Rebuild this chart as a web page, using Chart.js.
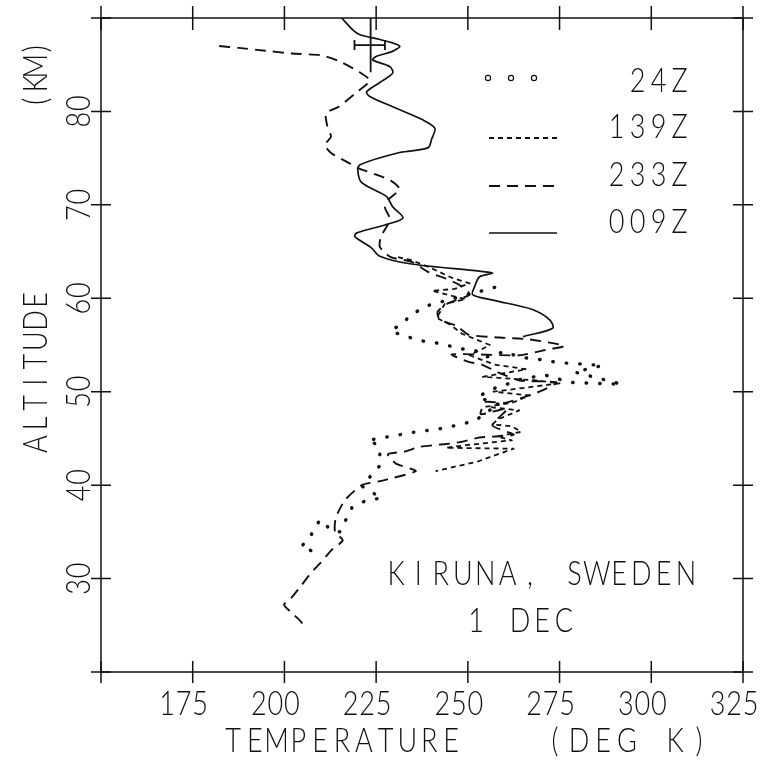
<!DOCTYPE html>
<html>
<head>
<meta charset="utf-8">
<script src="https://cdn.jsdelivr.net/npm/chart.js@4/dist/chart.umd.min.js"></script>
<style>
  html, body { margin: 0; padding: 0; background: #fff; }
  canvas { display: block; }
</style>
</head>
<body>
<canvas id="c" width="761" height="762"></canvas>
<script>
// temperature (K) on x, altitude (km) on y
const xTicks = [150, 175, 200, 225, 250, 275, 300, 325];
const xTickLabels = ['', '175', '200', '225', '250', '275', '300', '325'];
const yTicks = [20, 30, 40, 50, 60, 70, 80, 90];
const yTickLabels = ['', '30', '40', '50', '60', '70', '80', ''];

const seriesNames = ['24Z', '139Z', '233Z', '009Z'];

// each run: [temperature, altitude]
const run24Z = [
  [207.2, 33.0], [204.5, 33.4], [206.7, 34.3], [209.7, 36.3], [212.7, 35.2], [215.1, 35.0],
  [218.4, 37.6], [222.5, 38.4], [226.5, 38.6], [221.1, 39.9], [226.5, 42.3], [225.5, 44.3],
  [222.7, 44.8], [230.1, 45.3], [234.2, 45.6], [238.0, 45.8], [242.0, 46.0], [246.9, 46.4],
  [252.1, 46.9], [254.9, 47.8], [258.7, 48.6], [252.7, 49.4], [255.9, 50.2], [260.0, 50.7],
  [264.1, 51.3], [270.9, 51.8], [277.9, 51.0], [291.9, 50.8], [279.1, 52.1], [286.7, 52.8],
  [279.9, 53.0], [274.7, 53.1], [270.6, 53.4], [264.1, 53.7], [260.0, 54.3], [254.9, 53.7],
  [251.6, 54.5], [247.5, 54.6], [244.2, 55.0], [241.8, 55.2], [239.1, 55.3], [236.9, 55.5],
  [234.2, 55.8], [231.7, 56.1], [229.0, 56.5], [232.8, 57.5], [234.2, 58.2], [239.6, 59.3],
  [254.9, 60.9], [257.6, 61.2]
];

const run139Z = [
  [231.0, 64.4], [234.4, 64.1], [239.6, 63.3], [245.6, 62.2], [250.5, 61.6], [246.4, 61.0],
  [240.2, 60.8], [249.4, 59.9], [243.7, 59.4], [241.5, 57.9], [245.1, 57.2], [248.4, 56.2],
  [256.0, 55.0], [250.5, 53.9], [257.3, 52.9], [266.0, 52.4], [254.1, 51.6], [268.7, 51.2],
  [275.0, 50.9], [257.0, 50.0], [266.8, 49.6], [262.0, 48.8], [255.0, 48.4], [264.0, 48.0],
  [258.0, 47.0], [256.7, 46.5], [262.0, 46.3], [264.5, 45.7], [258.0, 45.2], [262.0, 44.8],
  [250.0, 44.3], [244.0, 44.0], [262.5, 43.9], [256.0, 43.0], [252.5, 42.5], [247.8, 42.1],
  [241.2, 41.5]
];

const run233Z = [
  [182.2, 87.0], [187.6, 86.8], [194.7, 86.5], [202.0, 86.2], [210.2, 86.0], [214.8, 85.4],
  [220.5, 84.2], [223.3, 83.3], [219.5, 82.0], [214.8, 80.5], [211.3, 79.8], [211.7, 78.4],
  [212.7, 77.3], [211.0, 76.4], [212.9, 75.5], [217.0, 74.6], [220.3, 73.9], [224.6, 73.3],
  [229.0, 72.6], [231.4, 71.7], [228.2, 70.5], [227.4, 69.7], [228.7, 68.6], [228.2, 67.9],
  [226.3, 66.6], [226.0, 65.5], [229.0, 64.4], [234.7, 63.9], [239.3, 62.8], [244.0, 62.1],
  [247.8, 61.4], [250.5, 60.4], [244.8, 59.5], [241.8, 58.6], [242.3, 57.7], [246.7, 57.1],
  [250.2, 56.1], [258.7, 55.8], [266.8, 55.6], [276.3, 54.9], [270.3, 54.4], [264.1, 53.9],
  [245.6, 54.0], [250.2, 53.2], [253.8, 52.9], [258.1, 52.1], [264.1, 51.2], [274.2, 51.0],
  [269.5, 50.0], [260.0, 48.8], [254.9, 48.9], [253.5, 47.6], [260.8, 48.2], [256.7, 46.4],
  [262.5, 45.4], [253.2, 45.1], [247.8, 44.6], [244.1, 44.4], [241.2, 44.3], [236.9, 44.1],
  [232.8, 43.6], [228.2, 43.3], [230.4, 42.3], [235.8, 41.5], [225.7, 40.4], [221.1, 40.0],
  [216.5, 38.4], [214.0, 36.5], [213.8, 35.0], [215.9, 34.1], [212.7, 33.0], [209.9, 31.7],
  [207.2, 30.6], [204.5, 29.2], [201.8, 27.9], [199.9, 27.2], [201.8, 26.4], [204.5, 25.4],
  [205.6, 24.7]
];

const run009Z = [
  [215.6, 90.0], [218.7, 88.7], [220.6, 88.2], [226.0, 87.7], [231.4, 87.0], [229.3, 86.4],
  [225.1, 85.9], [224.1, 85.5], [228.7, 84.8], [229.5, 84.1], [226.0, 83.1], [222.4, 82.1],
  [223.3, 81.6], [229.5, 80.5], [237.7, 79.1], [241.0, 78.2], [240.1, 77.0], [239.1, 76.1],
  [231.4, 75.6], [220.6, 74.3], [220.0, 73.7], [221.0, 72.4], [227.8, 70.9], [229.5, 69.8],
  [232.3, 68.6], [227.8, 67.9], [219.7, 67.0], [219.2, 66.6], [223.7, 65.4], [226.0, 64.5],
  [234.2, 63.7], [253.2, 62.9], [256.8, 62.7], [253.2, 62.3], [251.9, 61.3], [251.3, 60.4],
  [256.8, 59.8], [267.6, 58.8], [272.3, 57.7], [273.1, 56.8], [265.0, 55.9]
];

// error bar near the top of 009Z
const errorBar = { temp: 223.5, tempLow: 219.1, tempHigh: 227.4, alt: 87.1, altTop: 90, altBottom: 84.2 };

const INK = '#111';
const FONT = '300 33px Lato, "DejaVu Sans", sans-serif';

const toPoints = run => run.map(p => ({ x: p[0], y: p[1] }));

const lineStyles = [
  { dash: [0.5, 13], width: 3.4, cap: 'round', tension: 0 },   // dots
  { dash: [5, 4], width: 1.8, cap: 'butt', tension: 0 },       // short dash
  { dash: [11, 7], width: 1.9, cap: 'butt', tension: 0.2 },    // long dash
  { dash: [], width: 1.7, cap: 'butt', tension: 0.3 }          // solid
];

const runs = [run24Z, run139Z, run233Z, run009Z];

// fixed pitch text, like the old plotter lettering
function drawFixed(ctx, str, cx, cy, pitch, angle) {
  ctx.save();
  ctx.translate(cx, cy);
  if (angle) ctx.rotate(angle);
  ctx.font = FONT;
  ctx.fillStyle = INK;
  ctx.textAlign = 'center';
  ctx.textBaseline = 'alphabetic';
  const n = str.length;
  for (let i = 0; i < n; i++) {
    const ch = str[i];
    if (ch === ' ') continue;
    ctx.save();
    ctx.translate((i - (n - 1) / 2) * pitch, 12);
    ctx.scale(0.82, 1);
    ctx.fillText(ch, 0, 0);
    ctx.restore();
  }
  ctx.restore();
}

const framePlugin = {
  id: 'frame',
  afterDatasetsDraw(chart) {
    const ctx = chart.ctx;
    const xs = chart.scales.x, ys = chart.scales.y;
    const a = chart.chartArea;
    ctx.save();
    ctx.strokeStyle = INK;
    ctx.lineWidth = 1.5;
    ctx.setLineDash([]);
    ctx.strokeRect(a.left, a.top, a.right - a.left, a.bottom - a.top);

    // ticks crossing the frame on all sides
    ctx.beginPath();
    xTicks.forEach(v => {
      const px = xs.getPixelForValue(v);
      ctx.moveTo(px, a.bottom - 11); ctx.lineTo(px, a.bottom + 11);
      ctx.moveTo(px, a.top - 12); ctx.lineTo(px, a.top + 12);
    });
    yTicks.forEach(v => {
      const py = ys.getPixelForValue(v);
      ctx.moveTo(a.left - 10, py); ctx.lineTo(a.left + 10, py);
      ctx.moveTo(a.right - 10, py); ctx.lineTo(a.right + 10, py);
    });
    ctx.stroke();

    // error bar
    const ex = xs.getPixelForValue(errorBar.temp);
    const ey = ys.getPixelForValue(errorBar.alt);
    const ex0 = xs.getPixelForValue(errorBar.tempLow);
    const ex1 = xs.getPixelForValue(errorBar.tempHigh);
    ctx.beginPath();
    ctx.lineWidth = 1.8;
    ctx.moveTo(ex, ys.getPixelForValue(errorBar.altTop));
    ctx.lineTo(ex, ys.getPixelForValue(errorBar.altBottom));
    ctx.moveTo(ex0, ey); ctx.lineTo(ex1, ey);
    ctx.moveTo(ex0, ey - 5); ctx.lineTo(ex0, ey + 5);
    ctx.moveTo(ex1, ey - 5); ctx.lineTo(ex1, ey + 5);
    ctx.stroke();

    // tick labels
    xTicks.forEach((v, i) => {
      if (xTickLabels[i]) drawFixed(ctx, xTickLabels[i], xs.getPixelForValue(v) - 9, 703, 16.5, 0);
    });
    yTicks.forEach((v, i) => {
      if (yTickLabels[i]) drawFixed(ctx, yTickLabels[i], 78, ys.getPixelForValue(v), 16.5, -Math.PI / 2);
    });

    // axis titles
    drawFixed(ctx, 'TEMPERATURE', 342, 740, 21.8, 0);
    drawFixed(ctx, '(DEG K)', 627, 740, 24, 0);
    drawFixed(ctx, 'ALTITUDE', 35, 372, 20.6, -Math.PI / 2);
    drawFixed(ctx, '(KM)', 35, 75, 17.5, -Math.PI / 2);

    // station note
    drawFixed(ctx, 'KIRUNA, SWEDEN', 541, 573, 22.3, 0);
    drawFixed(ctx, '1 DEC', 520, 620, 22, 0);

    // legend
    const textY = [80, 126, 174, 221];
    const symY = [78, 138, 186, 233];
    seriesNames.forEach((name, i) => {
      const st = lineStyles[i];
      if (i === 0) {
        ctx.lineWidth = 1.2;
        ctx.setLineDash([]);
        [488, 511, 534].forEach(cx => {
          ctx.beginPath();
          ctx.arc(cx, symY[i], 2.6, 0, Math.PI * 2);
          ctx.stroke();
        });
      } else {
        ctx.beginPath();
        ctx.lineWidth = st.width;
        ctx.setLineDash(st.dash);
        ctx.moveTo(489, symY[i]);
        ctx.lineTo(557, symY[i]);
        ctx.stroke();
      }
      ctx.setLineDash([]);
      drawFixed(ctx, name, 690 - name.length * 21 / 2, textY[i], 21, 0);
    });
    ctx.restore();
  }
};

new Chart(document.getElementById('c'), {
  type: 'scatter',
  data: {
    datasets: runs.map((run, i) => ({
      label: seriesNames[i],
      data: toPoints(run),
      showLine: true,
      borderColor: INK,
      backgroundColor: INK,
      borderWidth: lineStyles[i].width,
      borderDash: lineStyles[i].dash,
      borderCapStyle: lineStyles[i].cap,
      borderJoinStyle: 'round',
      tension: lineStyles[i].tension,
      pointRadius: 0,
      fill: false
    }))
  },
  options: {
    responsive: false,
    animation: false,
    devicePixelRatio: 1,
    layout: { padding: { left: 101, top: 18, right: 18, bottom: 90 } },
    scales: {
      x: { type: 'linear', min: 150, max: 325, display: false },
      y: { type: 'linear', min: 20, max: 90, display: false }
    },
    plugins: {
      legend: { display: false },
      tooltip: { enabled: false }
    }
  },
  plugins: [framePlugin]
});
</script>
</body>
</html>
